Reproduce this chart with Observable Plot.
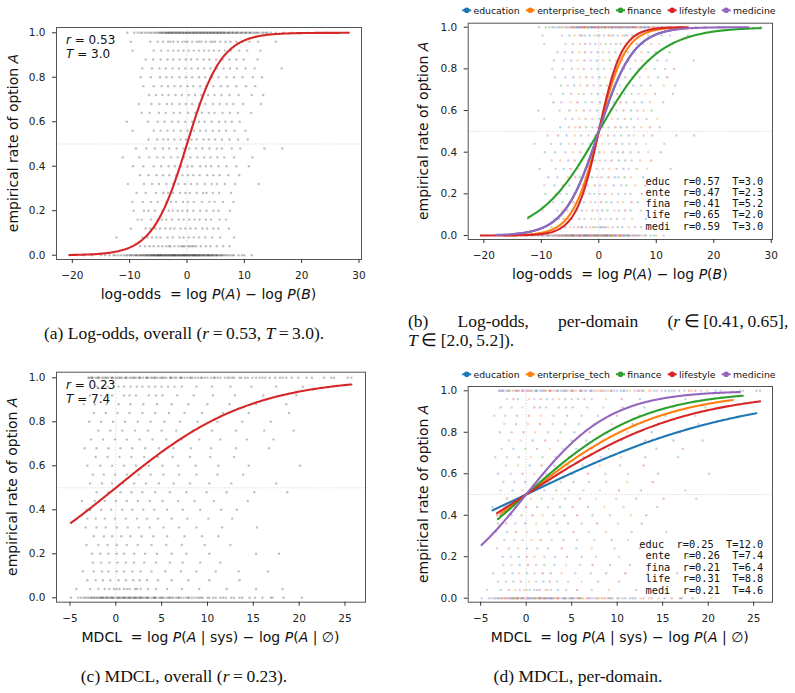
<!DOCTYPE html>
<html>
<head>
<meta charset="utf-8">
<script src="https://cdn.jsdelivr.net/npm/d3@7"></script>
<script src="https://cdn.jsdelivr.net/npm/@observablehq/plot@0.6"></script>
<style>
  body { margin: 0; background: #fff; }
  #page { position: relative; width: 795px; height: 693px; overflow: hidden; background: #fff; }
  .panel { position: absolute; }
  .panel svg { overflow: visible; }
</style>
</head>
<body>
<div id="page"></div>
<script>
// ---------------- data ----------------
const domains = ["education", "enterprise_tech", "finance", "lifestyle", "medicine"];
const domainCodes = ["e", "t", "f", "l", "m"];
const domainColors = ["#1f77b4", "#ff7f0e", "#2ca02c", "#d62728", "#9467bd"];

// empirical rates are k / rateSteps
const rateSteps = 25;
const rateTicks = [0, 0.2, 0.4, 0.6, 0.8, 1.0];
const logoddsTicks = [-20, -10, 0, 10, 20, 30];
const mdclTicks = [-5, 0, 5, 10, 15, 20, 25];

// fitted parameters
const logoddsOverallR = 0.53, logoddsOverallT = 3.0;
const logoddsDomainR = [0.57, 0.47, 0.41, 0.65, 0.59];
const logoddsDomainT = [3.0, 2.3, 5.2, 2.0, 3.0];
const mdclOverallR = 0.23, mdclOverallT = 7.4;
const mdclDomainR = [0.25, 0.26, 0.21, 0.31, 0.21];
const mdclDomainT = [12.0, 7.4, 6.4, 8.8, 4.6];

// per-item observations: one string per rate level k (bottom row first);
// each token is the x value followed by the domain code
const logoddsRows = [
  "-20.5l -18m -16.5t -15e -14.3t -13.5m -12.8l -12e -11.5e -11m -10.4t -10l -9.6m -9e -8.7f -8.2t -7.9m -7.5l -7.1e -6.8m -6.4t -6.1f -5.8l -5.5m -5.2e -4.9t -4.6m -4.3l -4f -3.7m -3.4e -3.1t -2.8l -2.5m -2.2f -1.9e -1.6t -1.3m -1l -0.7e -0.4m -0.1t 0.2f 0.5l 0.8m 1.1e 1.4t 1.7m 2l 2.3f 2.7e 3m 3.4t 3.8l 4.2m 4.7f 5.1e 5.6t 6.2m 6.8l 7.5t 8.2e 9f 10t 11.3m -9.3m -8.5e -7.7t -6.6l -5.9m -5.3f -4.7e -4.1t -3.5l -2.9m -2.3e -1.8l -1.2t -0.6m 0f 0.6e 1.2m 1.9t 2.5l 3.2m 3.9e 4.6t 5.4m 6.5e -7.4m -6.9e -6.2t -5.6l -5m -4.4e -3.8t -3.2m -2.6l -2e -1.4m -0.8t -0.2e 0.4m 1l 1.6e 2.2t 2.9m 3.6l 4.4e 5.2m 6t -8.9l -10.6m -12.5t 7.9m 9.6e -6.3e -5.7m -5.1t -4.5l -3.9m -3.3e -2.7t -2.1m -1.5l -0.9e -0.3m 0.3t 0.9m 1.5l 2.1e 2.8m 3.5t 4.3m 5e -7.1t -8.1m -9.8e -4.8f -2.4f -0.5l 1.3f 3.9t 5.9m 7.1e",
  "-8.2f -7.3m -6.5l -5.8e -5t -4.3m -3.6l -2.9e -2.2m -1.5t -1f -0.4m 0.2e 0.9l 1.6t 2.4m 3.3f 4.1e 5.2t 6.3m 7.4f -3.1m -0.7t 0.5e 1.2m",
  "-12.3f -7.8m -6.9e -6.1l -5.3t -4.6m -3.4e -2.5l -1.3m -0.6t 0.3e 1.2m 2.1f 3.2l 4.4m 5.8t 8.2e",
  "-9.8m -7.2e -6.4t -5.5l -4.7f -3.8m -2.9e -2.2t -1.1l -0.3m 0.6e 1.5f 2.7t 3.5m 4.6l 5.5e 7.3f",
  "-8.6e -7.9m -6.3f -5.1t -4.4l -3.6m -2.6e -1.4t -0.6m 0.4l 1.3f 2.2e 3.3m 4.2t 5.7l 6.8e",
  "-9.3f -7.5t -6.7m -5.6e -4.3l -3.2m -2.5t -1.6e -0.8f 0.1m 1.1l 2.3t 3.4e 4.6m 5.5f 7.5l",
  "-9.5m -7.7e -6.3l -5.1f -3.6t -2.8m -1.9e -0.7l 0.2m 1.2t 2.6e 3.9m 4.8f 6.3t 8.1l",
  "-8.8e -7.2m -5.4t -4.1l -3.3f -2.4m -1.2e -0.3t 0.5m 1.7l 2.8e 3.4m 4.5f 5.6t 7.7e",
  "-10.3f -7.5m -6.1e -4.9l -3.6t -2.4m -1.5e -0.4f 0.7m 1.8t 3.1l 4.3e 5.2m 6.6f 8.4t 12.5e",
  "-8.2m -6.7t -5.3e -4.2l -3.1f -1.9m -0.8e 0.2t 1.1m 2.2l 3.5e 4.6f 5.7m 7.2t 9.1l",
  "-9.4f -7.6e -5.8m -4.5t -3.2l -2.1e -1m 0.1f 0.9t 2.3m 3.3e 4.2l 5.5f 6.9m 8.6t 10.8e",
  "-11.2f -8.3m -6.6e -5.2t -4.1l -2.8m -1.6e -0.5f 0.6t 1.8m 3l 4.1e 5.3f 6.5m 8.2t 11.4f",
  "-8.9m -7.1l -5.6e -4.2t -3.1f -1.8m -0.6e 0.4t 1.6l 2.7m 3.9f 5.2e 6.1t 7.8m 9.3l 13.5f 16.6f",
  "-6.7e -5.2m -4.1t -3.3l -2.2f -1.1m -0.2e 0.8t 1.7m 2.9l 3.8e 4.9f 6.1m 7.4t 8.9l 10.6e",
  "-9.5f -5.8m -4.6e -3.4t -2.3l -1.1m 0.1f 1.2e 2.3t 3.3m 4.5l 5.6f 6.8m 8.3e 10.2t",
  "-10.5f -6.8m -5.1e -3.9t -2.6l -1.5m -0.3e 0.9t 2.1f 3.1m 4.3l 5.6e 6.7m 7.8t 9.2f",
  "-7.9e -6.5m -4.9t -3.7l -2.3f -1.2m 0.2e 1.4t 2.6m 3.8l 4.8f 6.2m 7.5e 8.9t 11.2f",
  "-8.4m -6.2e -4.8l -3.5t -2.6f -1.3m -0.2e 0.9t 2.1m 3.2l 4.5e 5.7f 6.9m 8.1t 9.8l 12.9e",
  "-6.6f -5.4m -4.3e -3.2t -2l -0.9m 0.3e 1.4f 2.5t 3.7m 4.8l 6e 7.4m 9f 11.3t 13.3e",
  "-7.6f -5.8m -4.4e -3.3t -2.2l -1.1m 0.1e 1.1t 2.3f 3.4m 4.6l 5.9e 7.1m 8.6t 10.3f 11.9l",
  "-8.1f -6.3m -4.7e -3.6t -2.6l -1.3m -0.2e 0.9f 2.1t 3.2m 4.4l 5.5e 6.9m 8.2t 9.7e 11.5f 13.1l",
  "-7.8f -6.1m -4.8e -3.7t -2.5l -1.4m -0.3e 0.8t 1.9f 3m 4.1l 5.2e 6.4m 7.5t 8.7l 10.2e 11.8m 16.5f",
  "-7.2f -5.9m -4.6e -3.4t -2.4l -1.3m -0.2e 0.7t 1.8m 2.9f 3.9l 5.1e 6.2m 7.4t 8.6e 9.9l 12.3f",
  "-9.5f -5.8m -4.5e -3.3t -2.4l -1.5m -0.6e 0.3t 1.2f 2.1m 3l 3.8e 4.7m 5.6t 6.6l 7.7e 9.1m 10.5t 12.8f",
  "-9.8f -6.4m -5.1e -4.2t -3.3l -2.4m -1.6e -0.8t 0.1f 0.9m 1.7l 2.5e 3.3m 4.1t 4.9l 5.8e 6.7m 7.6t 8.6f 9.7l 10.9e 12.4m 15.5f -2.9e -0.3m 2.1t 4.5e",
  "-10.4f -9.2f -8.1f -7.3m -6.5f -5.8e -5.2t -4.7m -4.2l -3.7e -3.2m -2.8t -2.4l -2f -1.6m -1.2e -0.8t -0.4l 0m 0.4e 0.8t 1.2l 1.6m 2f 2.4e 2.8t 3.2m 3.6l 4e 4.4m 4.8t 5.2l 5.6f 6m 6.4e 6.9t 7.4l 7.9m 8.4e 8.9t 9.5f 10.1m 10.8e 11.5t 12.3l 13.1m 14t 15.5l 16.8f 18.4m 21f 24.5m 26m 28.2f -4.5e -3.5t -2.6m -1.8e -1l -0.2m 0.6f 1.4t 2.2m 3l 3.8e 4.6m 5.4t 6.2l 7.1m 8.1e 9.2t 10.4m 11.8l -3.9m -3.3e -2.9l -2.2t -1.4e -0.6m 0.2t 1l 1.8e 2.6m 3.4t 4.2l 5e 5.8m 6.6t 7.5e 8.6m 9.8t 11.1e 12.6m 13.8l -6.9e -7.8m 14.6t -5.5m -4.9l -4.3t -3.7e -3.1m -2.5l -1.9t -1.3m -0.7e -0.1l 0.5m 1.1e 1.7t 2.3l 2.9m 3.5e 4.1t 4.7m 5.3e 5.9l 6.5m 7.2t 7.9e 8.7l 9.5m 10.3t 11e 12.1m 13.4e -6.2t -8.6f"
];

const mdclRows = [
  "-4.9m -3.8m -3.3m -2.9f -2.6t -2.3m -2e -1.7l -1.4m -1.1f -0.8t -0.5e -0.2m 0.1l 0.4t 0.7m 1e 1.3f 1.6m 1.9l 2.2t 2.5e 2.8m 3.1f 3.5l 3.9m 4.3t 4.7e 5.1m 5.6l 6.1f 6.6t 7.1m 7.7e 8.3l 8.9t 9.5m 10.2f 10.9e 11.7l 12.6t 13.8m 15.2e 16.9l 18.3f 20.3t -1.8m -1.3e -0.9l -0.3t 0.3m 0.8e 1.4f 2l 2.6m 3.3t 4.1e 4.9m 5.8l 6.8m 7.9t 9.1e -3.5e -2.7l -2.1t -1.5f -0.6m 0.5e 1.1t 1.7m 2.3e 2.9l 3.6m 4.4f 5.3e 6.3t 7.4m 8.6l 10m 11.4e 12.9m -4.1m 14.6t 17.1e -3.1e -2.4m -1.6t -1l -0.4e 0.2m 0.9t 1.5l 2.1m 2.7e 3.4t 4.2m 5l 5.9e 6.9m 8t 9.3l 10.6m 12e 13.5t 16l",
  "-4.3m -2.8e -1.9l -1.2t -0.7m -0.2f 0.4e 0.9m 1.5l 2.1t 2.7m 3.5e 4.4f 5.6l 7.2m 9.1t 12.1e 15.3f 18.2l 0.1t 1.2e 2.3m",
  "-3.1m -2.2f -1.4e -0.6l 0.3t 1.1m 1.9e 2.6l 3.4f 4.6m 6.1t 7.9e 10.2l 13.5m",
  "-3.6m -2.4m -1.5e -0.8t 0.1f 0.9m 1.8l 2.7e 3.9t 5.4m 7.1f 8.8e 10.9l 13.4t 16.6m",
  "-2.5m -1.6t -0.7e 0.2l 1.1m 2f 3.1e 4.4t 5.9m 7.3l 9.2e 11.4f",
  "-2.6e -1.7m -0.8f 0.1l 0.9t 2m 3.2e 4.5l 6.1f 7.7m 10.2t 15.3e 17.8f",
  "-3.2m -1.9l -0.9t 0.1e 1.2m 2.4f 3.9l 5.5e 7.2t 9.7m 12.5l",
  "-2.4f -1.3m -0.4e 0.6t 1.6l 2.8m 4.1e 5.6f 7.5m 9.4l 11.2t",
  "-3.3m -2.1e -1.1l 0.1t 1.3m 2.5f 3.7e 5.2l 6.9m 8.8t 11.6e 15.4f",
  "-3.1f -2.2l -1.2m -0.1e 1.1t 2.3m 3.4f 4.6e 6.1m 7.8l 10.1t 12.7e",
  "-3.2l -2.9e -2.8t -1.6m -0.5f 0.7l 1.8t 3m 4.2e 5.6l 7.3f 9.2m 11.5t 13.2e",
  "-3.7e -2.3m -1.2t 0l 1.2e 2.4m 3.7f 5.1l 6.8e 8.6t 10.7m 14.4f",
  "-2.1l -0.8m 0.5t 1.7f 2.9m 4.3e 5.9l 7.7t 9.9m 12.1e 15.1l 18.7f",
  "-2.8m -1.5e -0.4t 0.8l 2m 3.3f 4.7e 6.3m 8.1t 10.2l 12.6e 17.5m",
  "-2.5f -1.3m -0.1e 1.2t 2.5l 3.8m 5.2e 6.9f 8.8m 11.1t 13.9l",
  "-3.1e -1.7m -0.4l 0.9t 2.2m 3.6f 5.1e 6.8l 8.7m 11.2t 14.5e 20.1f",
  "-2.2m -0.9t 0.4e 1.7l 3.1m 4.6f 6.2e 8.1t 10.3m 12.9l",
  "-3.4m -2.1m -0.8e 0.5t 1.8f 3.2m 4.7l 6.3e 8.2m 10.4t 13.1e 16.7f",
  "-2.7m -1.4e -0.1f 1.2l 2.6t 4m 5.5e 7.2l 9.1m 11.4t 14.3e 17.2l",
  "-1.9m -0.6t 0.7e 2.1l 3.5m 5f 6.6e 8.4t 10.5m 13.1l 16.2e 19.4f",
  "-2.9e -1.6m -0.3l 1t 2.4m 3.8f 5.3e 7l 8.9m 11.1t 13.8e 16.9l",
  "-2.4m -1.1e 0.2t 1.5l 2.9m 4.3f 5.8e 7.5m 9.4t 11.7l 14.5e 18.9m",
  "-3.5m -2.3m -1e 0.3l 1.6t 3m 4.5e 6.1f 7.9m 10l 12.4t 15.3e 18.6m",
  "-2.8e -1.6m -0.4t 0.9l 2.2m 3.6f 5.1e 6.7m 8.5t 10.6l 13e 16.1m 19.7f 1.5e 4.4m",
  "-2.1m -0.9e 0.3t 1.6l 2.9m 4.3f 5.7e 7.2m 8.8t 10.5l 12.5e 14.8m 17.5f 20.4t -1.4l 0.9m 2.3e 3.6t 5m 6.4l",
  "-3m -2.5e -2f -1.5m -1l -0.5t 0m 0.5e 1f 1.5m 2l 2.5t 3m 3.5e 4f 4.5m 5l 5.5t 6m 6.6e 7.2f 7.8m 8.4l 9t 9.7m 10.4e 11.1f 11.9m 12.7l 13.5t 14.4m 15.3e 16.3f 17.4m 18.6l 19.9t 21.4m 22.7t 23.5m 23.8f 25.3e 25.7l -2.7l -1.8t -0.8e 0.2l 1.2m 2.2f 3.3m 4.3e 5.3t 6.4m 7.5l 8.7e 10m 11.4t 12.9f 14.9m 16.8e -2.9e -2.2m -1.3t -0.3l 0.7m 1.7e 2.7l 3.8m 4.8t 5.9e 7m 8.1t 9.3l 10.7e 12.2m 13.7t 15.7e 17.9l 19.2m 20.8e -2.6m -1.9e -1.1l -0.4m 0.4t 1.1e 1.9m 2.6l 3.4t 4.2m 5.1e 6.1l 7.1m 8.2t 9.4e 10.8m 12.4l 14.1e 16m 18.2t"
];

// ---------------- helpers ----------------
function parseRows(rows) {
  const pts = [];
  rows.forEach((row, k) => {
    row.trim().split(/\s+/).forEach(tok => {
      const code = tok.slice(-1);
      pts.push({x: parseFloat(tok.slice(0, -1)), y: k / rateSteps, domain: domains[domainCodes.indexOf(code)]});
    });
  });
  return pts;
}

// logistic fit p = 1 / (1 + exp(-x / T)) over the x-range covered by the points
function fitCurve(pts, T, domain, n = 200) {
  const [a, b] = d3.extent(pts, d => d.x);
  return d3.range(n + 1).map(i => {
    const x = a + (b - a) * i / n;
    return {x, y: 1 / (1 + Math.exp(-x / T)), domain};
  });
}

const fmtTick = d => (d < 0 ? "\u2212" + Math.abs(d) : String(d));

function richText(sel, x, y, parts, o = {}) {
  const t = sel.append("text")
    .attr("x", x).attr("y", y)
    .attr("font-size", o.size || 13)
    .attr("font-family", o.family || "'DejaVu Sans', sans-serif")
    .attr("text-anchor", o.anchor || "start")
    .attr("fill", o.fill || "#111")
    .style("white-space", "pre");
  if (o.rotate) t.attr("transform", `rotate(-90 ${x} ${y})`);
  parts.forEach(p => {
    const ts = t.append("tspan").text(typeof p === "string" ? p : p.i);
    if (typeof p !== "string") ts.attr("font-style", "italic");
  });
  return t;
}

const page = d3.select("#page");

function makePanel(cfg) {
  const {box, frame, xDomain, yDomain, xTicks, points, curves, colored} = cfg;
  const svg = Plot.plot({
    width: box.w, height: box.h,
    marginLeft: frame.l - box.x, marginRight: box.x + box.w - frame.r,
    marginTop: frame.t - box.y, marginBottom: box.y + box.h - frame.b,
    x: {domain: xDomain},
    y: {domain: yDomain},
    color: {domain: domains, range: domainColors},
    style: {background: "transparent", fontFamily: "'DejaVu Sans', sans-serif", fontSize: "10.5px", color: "#222"},
    marks: [
      Plot.ruleY([0.5], {stroke: "#c4c4c4", strokeWidth: 0.8, strokeDasharray: "1,1.8"}),
      Plot.ruleX([0], {stroke: "#c4c4c4", strokeWidth: 0.8, strokeDasharray: "1,1.8"}),
      Plot.dot(points, {x: "x", y: "y", r: 1.2, fill: colored ? "domain" : "#2a2a2a", fillOpacity: colored ? 0.32 : 0.3}),
      Plot.line(curves, {x: "x", y: "y", z: "domain", stroke: colored ? "domain" : "#d62728", strokeWidth: 2.1}),
      Plot.frame({stroke: "#555", strokeWidth: 1}),
      Plot.axisX(xTicks, {tickSize: 4, tickPadding: 8, tickFormat: fmtTick, label: null, stroke: "#333"}),
      Plot.axisY(rateTicks, {tickSize: 4, tickPadding: 7, tickFormat: d => d.toFixed(1), label: null, stroke: "#333"})
    ]
  });
  page.append("div").attr("class", "panel")
    .style("left", box.x + "px").style("top", box.y + "px")
    .node().appendChild(svg);
  const s = d3.select(svg);
  const L = px => px - box.x, T = py => py - box.y;
  // axis titles
  richText(s, (frame.l + frame.r) / 2 - box.x, T(frame.b + 40), cfg.xLabel, {size: 14, anchor: "middle"});
  richText(s, L(cfg.yLabelX), T((frame.t + frame.b) / 2), ["empirical rate of option ", {i: "A"}], {size: 14, anchor: "middle", rotate: true});
  return {s, L, T};
}

function addFitNote(p, frame, r, Tv) {
  const x = p.L(frame.l + 10), y0 = p.T(frame.t + 17);
  richText(p.s, x, y0, [{i: "r"}, " = " + r.toFixed(2)], {size: 12});
  richText(p.s, x, y0 + 14, [{i: "T"}, " = " + Tv.toFixed(1)], {size: 12});
}

function addLegend(p, cy) {
  let cx = p.L(466.7);
  domains.forEach((d, i) => {
    const g = p.s.append("g");
    g.append("line").attr("x1", cx - 4.5).attr("x2", cx + 4.5).attr("y1", cy).attr("y2", cy)
      .attr("stroke", domainColors[i]).attr("stroke-width", 2);
    g.append("circle").attr("cx", cx).attr("cy", cy).attr("r", 2.8).attr("fill", domainColors[i]);
    const t = g.append("text").attr("x", cx + 6.8).attr("y", cy + 3.3)
      .attr("text-anchor", "start")
      .attr("font-size", 9.3).attr("font-family", "'DejaVu Sans', sans-serif").attr("fill", "#111").text(d);
    cx = cx + 6.8 + t.node().getComputedTextLength() + 10.7;
  });
}

function addStats(p, rightX, lastBaseline, step, rs, Ts) {
  const n = domains.length;
  domains.forEach((d, i) => {
    p.s.append("text").attr("x", p.L(rightX)).attr("y", p.T(lastBaseline - (n - 1 - i) * step))
      .attr("text-anchor", "end").attr("font-size", 10.3)
      .attr("font-family", "'DejaVu Sans Mono', monospace").attr("fill", "#111")
      .style("white-space", "pre")
      .text(`${d.slice(0, 4)}  r=${rs[i].toFixed(2)}  T=${Ts[i].toFixed(1)}`);
  });
}

// ---------------- build ----------------
const logoddsPts = parseRows(logoddsRows);
const mdclPts = parseRows(mdclRows);

const logoddsLabel = ["log-odds  = log ", {i: "P"}, "(", {i: "A"}, ") \u2212 log ", {i: "P"}, "(", {i: "B"}, ")"];
const mdclLabel = ["MDCL  = log ", {i: "P"}, "(", {i: "A"}, " | sys) \u2212 log ", {i: "P"}, "(", {i: "A"}, " | \u2205)"];

const perDomainCurves = (pts, Ts) =>
  domains.flatMap((d, i) => fitCurve(pts.filter(p => p.domain === d), Ts[i], d));

// (a) log-odds, overall
const frameA = {l: 56, r: 361, t: 27, b: 259};
const pA = makePanel({
  box: {x: 0, y: 0, w: 400, h: 315}, frame: frameA,
  xDomain: [-22.76, 30.44], yDomain: [-0.0193, 1.0238], xTicks: logoddsTicks,
  points: logoddsPts, curves: fitCurve(logoddsPts, logoddsOverallT, "all"), colored: false,
  xLabel: logoddsLabel, yLabelX: 17.5
});
addFitNote(pA, frameA, logoddsOverallR, logoddsOverallT);

// (b) log-odds, per-domain
const frameB = {l: 467.7, r: 772, t: 22.7, b: 239};
const pB = makePanel({
  box: {x: 400, y: 0, w: 395, h: 300}, frame: frameB,
  xDomain: [-22.72, 30.22], yDomain: [-0.0192, 1.0192], xTicks: logoddsTicks,
  points: logoddsPts, curves: perDomainCurves(logoddsPts, logoddsDomainT), colored: true,
  xLabel: logoddsLabel, yLabelX: 428
});
addLegend(pB, pB.T(10.3));
addStats(pB, 763.3, 229.5, 11.1, logoddsDomainR, logoddsDomainT);

// (c) MDCL, overall
const frameC = {l: 56, r: 365, t: 371.7, b: 601.7};
const pC = makePanel({
  box: {x: 0, y: 345, w: 400, h: 315}, frame: frameC,
  xDomain: [-6.47, 27.24], yDomain: [-0.02, 1.0255], xTicks: mdclTicks,
  points: mdclPts, curves: fitCurve(mdclPts, mdclOverallT, "all"), colored: false,
  xLabel: mdclLabel, yLabelX: 17.5
});
addFitNote(pC, frameC, mdclOverallR, mdclOverallT);

// (d) MDCL, per-domain
const frameD = {l: 467.7, r: 772, t: 386, b: 601.7};
const pD = makePanel({
  box: {x: 400, y: 345, w: 395, h: 300}, frame: frameD,
  xDomain: [-6.37, 27.07], yDomain: [-0.0193, 1.0207], xTicks: mdclTicks,
  points: mdclPts, curves: perDomainCurves(mdclPts, mdclDomainT), colored: true,
  xLabel: mdclLabel, yLabelX: 428
});
addLegend(pD, pD.T(374.3));
addStats(pD, 763.3, 593.5, 11.4, mdclDomainR, mdclDomainT);

// ---------------- sub-captions ----------------
const cap = page.append("svg").attr("width", 795).attr("height", 693)
  .style("position", "absolute").style("left", 0).style("top", 0).style("pointer-events", "none");
const serif = "'Liberation Serif', 'Times New Roman', serif";
const capOpts = a => ({size: 17.5, family: serif, anchor: a, fill: "#111"});
const th = "\u2009";

richText(cap, 184, 338.5, ["(a) Log-odds, overall (", {i: "r"}, th + "=" + th + logoddsOverallR.toFixed(2) + ", ", {i: "T"}, th + "=" + th + logoddsOverallT.toFixed(1) + ")."], capOpts("middle"));

// justified first line of (b)
const rExt = d3.extent(logoddsDomainR), tExt = d3.extent(logoddsDomainT);
const wordsB = [
  ["(b)"], ["Log-odds,"], ["per-domain"],
  ["(", {i: "r"}, th + "\u2208" + th + "[" + rExt[0].toFixed(2) + "," + th + rExt[1].toFixed(2) + "],"]
];
const nodesB = wordsB.map(w => richText(cap, 0, 327, w, capOpts("start")));
const widthsB = nodesB.map(n => n.node().getComputedTextLength());
const gapB = (788.3 - 408 - d3.sum(widthsB)) / (wordsB.length - 1);
let xb = 408;
nodesB.forEach((n, i) => { n.attr("x", xb); xb += widthsB[i] + gapB; });
richText(cap, 408, 345.5, [{i: "T"}, th + "\u2208" + th + "[" + tExt[0].toFixed(1) + "," + th + tExt[1].toFixed(1) + "])."], capOpts("start"));

richText(cap, 184, 682, ["(c) MDCL, overall (", {i: "r"}, th + "=" + th + mdclOverallR.toFixed(2) + ")."], capOpts("middle"));
richText(cap, 578, 682, ["(d) MDCL, per-domain."], capOpts("middle"));
</script>
</body>
</html>
